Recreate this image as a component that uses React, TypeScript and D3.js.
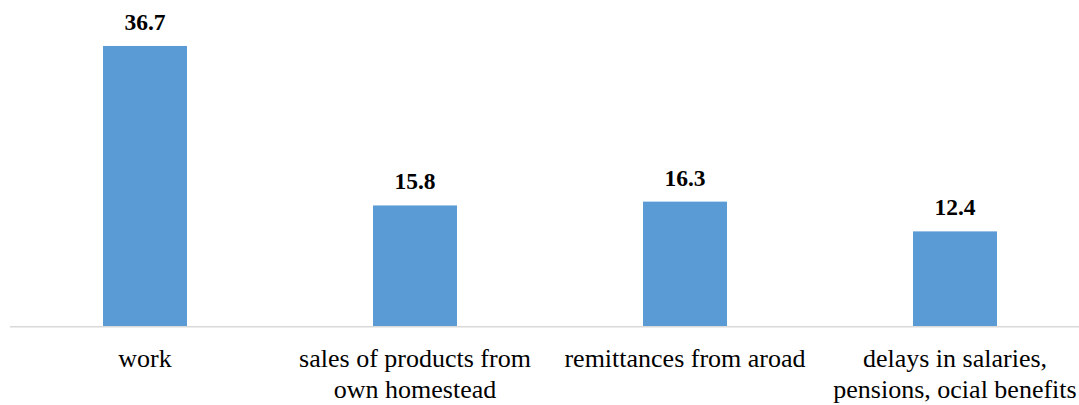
import React from "react";
import * as d3 from "d3";

const categories = [
  "work",
  "sales of products from own homestead",
  "remittances from aroad",
  "delays in salaries, pensions, ocial benefits",
];
const categoryLines = [
  ["work"],
  ["sales of products from", "own homestead"],
  ["remittances from aroad"],
  ["delays in salaries,", "pensions, ocial benefits"],
];
const values = [36.7, 15.8, 16.3, 12.4];

const W = 1079;
const H = 405;

export default function App() {
  const x = d3
    .scaleBand<string>()
    .domain(categories)
    .range([10, 1090])
    .paddingInner(0.689)
    .paddingOuter(0.3445);
  const y = d3.scaleLinear().domain([0, 40]).range([326, 20.8]);
  const font = "Liberation Serif, DejaVu Serif, Tinos, Times New Roman, serif";

  return (
    <svg
      width={W}
      height={H}
      style={{ position: "absolute", left: 0, top: 0, background: "#fff" }}
    >
      <line x1={10} x2={1090} y1={326.7} y2={326.7} stroke="#D9D9D9" strokeWidth={1.5} />
      {categories.map((c, i) => {
        const bx = x(c)!;
        const cx = bx + x.bandwidth() / 2;
        return (
          <g key={c}>
            <rect
              x={bx}
              y={y(values[i])}
              width={x.bandwidth()}
              height={y(0) - y(values[i])}
              fill="#5B9BD5"
            />
            <text
              x={cx}
              y={y(values[i]) - 16}
              textAnchor="middle"
              style={{ fontFamily: font, fontWeight: "bold", fontSize: "23.5px" }}
              fill="#000"
            >
              {values[i].toFixed(1)}
            </text>
            <text
              x={cx}
              y={366.5}
              textAnchor="middle"
              style={{ fontFamily: font, fontSize: "26px" }}
              fill="#000"
            >
              {categoryLines[i].map((l, j) => (
                <tspan key={j} x={cx} dy={j === 0 ? 0 : 31}>
                  {l}
                </tspan>
              ))}
            </text>
          </g>
        );
      })}
    </svg>
  );
}
